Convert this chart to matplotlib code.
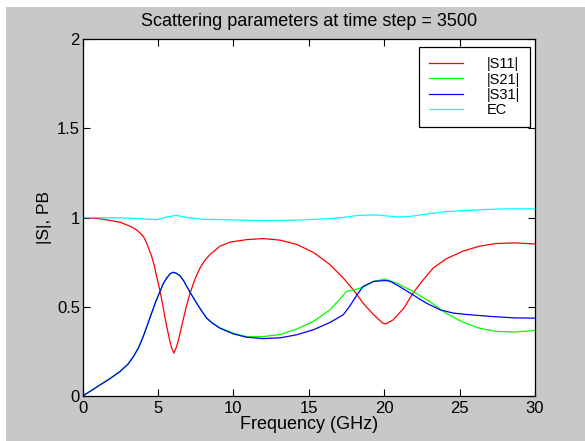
import matplotlib
matplotlib.use("Agg")
import matplotlib.pyplot as plt
from matplotlib.patches import Rectangle

plt.rcParams['font.family'] = ['Liberation Sans', 'DejaVu Sans']

# ---- data ----
s11_f = [0, 1.15, 2.47, 3.14, 3.5, 3.8, 4.05, 4.24, 4.57, 4.75, 4.9, 5.07, 5.24, 5.4, 5.57,
         5.75, 5.9, 6.05, 6.23, 6.4, 6.56, 6.73, 6.9, 7.1, 7.34, 7.55, 7.78, 8.1, 8.44, 9.1,
         9.77, 10.87, 11.98, 13.1, 14.2, 15.3, 16.4, 17.28, 17.95, 18.6, 19.3, 19.9, 20.1,
         20.6, 21.3, 21.9, 22.6, 23.25, 24.1, 25.2, 26.3, 27.4, 28.55, 30]
s11_v = [1.0, 0.993, 0.974, 0.951, 0.935, 0.914, 0.89, 0.857, 0.783, 0.73, 0.67, 0.61,
         0.54, 0.465, 0.39, 0.32, 0.268, 0.24, 0.277, 0.33, 0.39, 0.45, 0.51, 0.57, 0.63,
         0.675, 0.717, 0.76, 0.792, 0.839, 0.862, 0.876, 0.882, 0.873, 0.849, 0.805, 0.736,
         0.661, 0.595, 0.52, 0.455, 0.408, 0.404, 0.427, 0.492, 0.576, 0.652, 0.717, 0.768,
         0.811, 0.839, 0.854, 0.858, 0.852]

s21_f = [0, 0.6, 1.15, 1.8, 2.47, 3.0, 3.36, 3.7, 4.0, 4.3, 4.57, 4.85, 5.13, 5.35, 5.57,
         5.8, 6.0, 6.2, 6.45, 6.7, 6.9, 7.2, 7.56, 7.9, 8.22, 8.6, 9.1, 9.99, 10.87, 11.98,
         13.1, 14.2, 15.3, 16.4, 17.06, 17.5, 18.2, 18.6, 19.3, 20.05, 20.8, 21.9, 23.0,
         24.1, 25.2, 26.3, 27.4, 28.55, 30]
s21_v = [0, 0.032, 0.062, 0.097, 0.137, 0.178, 0.22, 0.27, 0.33, 0.40, 0.464, 0.53, 0.586,
         0.63, 0.661, 0.685, 0.693, 0.688, 0.674, 0.645, 0.614, 0.57, 0.52, 0.475, 0.437,
         0.41, 0.382, 0.352, 0.333, 0.333, 0.345, 0.375, 0.418, 0.483, 0.543, 0.586, 0.599,
         0.61, 0.642, 0.655, 0.633, 0.586, 0.53, 0.464, 0.414, 0.38, 0.362, 0.358, 0.367]

s31_f = [0, 0.6, 1.15, 1.8, 2.47, 3.0, 3.36, 3.7, 4.0, 4.3, 4.57, 4.85, 5.13, 5.35, 5.57,
         5.8, 6.0, 6.2, 6.45, 6.7, 6.9, 7.2, 7.56, 7.9, 8.22, 8.6, 9.1, 9.99, 10.87, 11.98,
         13.1, 14.2, 15.3, 16.4, 17.28, 17.7, 18.2, 18.6, 19.3, 20.1, 20.4, 21.0, 21.9,
         22.8, 23.7, 24.6, 25.7, 27.0, 28.55, 30]
s31_v = [0, 0.032, 0.062, 0.097, 0.137, 0.178, 0.22, 0.27, 0.33, 0.40, 0.464, 0.53, 0.586,
         0.63, 0.661, 0.685, 0.693, 0.688, 0.674, 0.645, 0.614, 0.57, 0.52, 0.475, 0.436,
         0.408, 0.38, 0.348, 0.329, 0.322, 0.326, 0.343, 0.371, 0.412, 0.455, 0.502, 0.567,
         0.614, 0.642, 0.647, 0.642, 0.614, 0.567, 0.52, 0.483, 0.464, 0.455, 0.446, 0.438,
         0.436]

ec_f = [0, 3.1, 4.9, 5.57, 6.2, 6.9, 8.0, 9.77, 11.98, 14.2, 15.96, 17.06, 18.2, 19.3,
        20.4, 21.0, 21.9, 23.0, 24.1, 25.2, 26.3, 27.4, 28.5, 30]
ec_v = [1.0, 0.997, 0.988, 1.003, 1.012, 1.0, 0.99, 0.987, 0.983, 0.985, 0.992, 0.998,
        1.011, 1.015, 1.007, 1.002, 1.008, 1.022, 1.033, 1.038, 1.043, 1.047, 1.049, 1.048]

labels = ['|S11|', '|S21|', '|S31|', 'EC']
xticks = [0, 5, 10, 15, 20, 25, 30]
yticks = [0, 0.5, 1, 1.5, 2]
yticklabels = ['0', '0.5', '1', '1.5', '2']

W, H = 585, 441
fig = plt.figure(figsize=(W / 100, H / 100), dpi=100, facecolor='white')
fig.patches.append(Rectangle((6 / W, 0), 1 - 6 / W, 1 - 7 / H, transform=fig.transFigure,
                             facecolor='#c8c8c8', edgecolor='none', zorder=-10))

ax = fig.add_axes([82.7 / W, (H - 396) / H, (535 - 82.7) / W, (396 - 39) / H])
ax.set_facecolor('white')

lw = 0.9
ax.plot(s11_f, s11_v, color='#ff0000', lw=lw, label=labels[0])
ax.plot(s21_f, s21_v, color='#00ff00', lw=lw, label=labels[1])
ax.plot(s31_f, s31_v, color='#0000ff', lw=lw, label=labels[2])
ax.plot(ec_f, ec_v, color='#00ffff', lw=lw, label=labels[3])

ax.set_xlim(0, 30)
ax.set_ylim(0, 2)
ax.set_xticks(xticks)
ax.set_yticks(yticks)
ax.set_xticklabels([str(t) for t in xticks])
ax.set_yticklabels(yticklabels)
ax.tick_params(direction='in', top=True, right=True, length=5, width=0.8,
               labelsize=12, colors='black')
ax.tick_params(axis='x', pad=3.6)
ax.tick_params(axis='y', pad=2)
for s in ax.spines.values():
    s.set_linewidth(0.9)
    s.set_color('black')

ax.set_title('Scattering parameters at time step = 3500', fontsize=13, pad=9.4)
ax.set_xlabel('Frequency (GHz)', fontsize=13, labelpad=0)
ax.set_ylabel('|S|, PB', fontsize=12.5, labelpad=3.5)

leg = ax.legend(loc='upper right', bbox_to_anchor=(0.989, 0.978), borderaxespad=0,
                fontsize=10.5, frameon=True, fancybox=False, framealpha=1,
                edgecolor='black', handlelength=2.3, handletextpad=1.6,
                labelspacing=0.08, borderpad=0.72)
leg.get_frame().set_linewidth(0.9)

fig.savefig('out.png', dpi=100, facecolor=fig.get_facecolor())
